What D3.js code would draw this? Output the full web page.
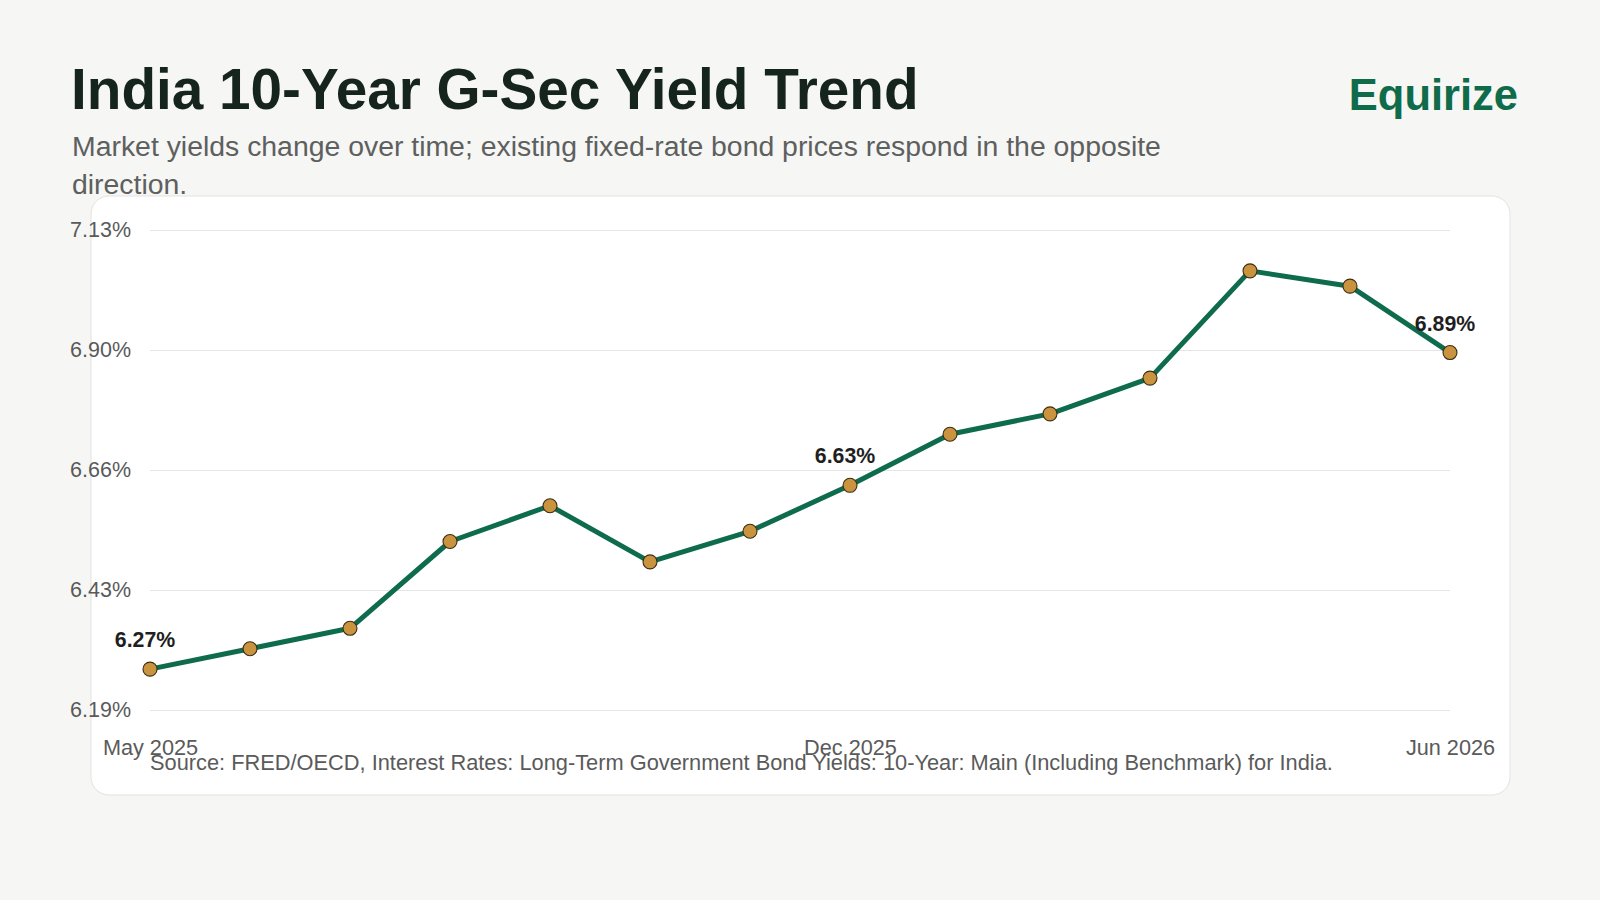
<!DOCTYPE html>
<html>
<head>
<meta charset="utf-8">
<script src="https://cdn.jsdelivr.net/npm/d3@7"></script>
<style>
    body { margin: 0; background: #f6f6f4; }
    svg { display: block; font-family: "Liberation Sans", Arial, sans-serif; }
</style>
</head>
<body>
<div id="main_svg"></div>
<script>
// chart data
var months = ["May 2025", "Jun 2025", "Jul 2025", "Aug 2025", "Sep 2025", "Oct 2025", "Nov 2025",
    "Dec 2025", "Jan 2026", "Feb 2026", "Mar 2026", "Apr 2026", "May 2026", "Jun 2026"];
var yields = [6.27, 6.31, 6.35, 6.52, 6.59, 6.48, 6.54, 6.63, 6.73, 6.77, 6.84, 7.05, 7.02, 6.89];
var xTickLabels = ["May 2025", "Dec 2025", "Jun 2026"];
var labelledMonths = ["May 2025", "Dec 2025", "Jun 2026"];

var title = "India 10-Year G-Sec Yield Trend";
var subtitleLines = ["Market yields change over time; existing fixed-rate bond prices respond in the opposite",
    "direction."];
var brand = "Equirize";
var source = "Source: FRED/OECD, Interest Rates: Long-Term Government Bond Yields: 10-Year: Main (Including Benchmark) for India.";

var data = months.map(function (m, i) { return {month: m, value: yields[i]}; });

// plot area
var margin = {top: 230, right: 150, bottom: 190, left: 150},
    W = 1600, H = 900,
    width = W - margin.left - margin.right,
    height = H - margin.top - margin.bottom;

var svg = d3.select("#main_svg").append("svg")
    .attr("width", W)
    .attr("height", H);

// header
svg.append("text")
    .attr("x", 71).attr("y", 109)
    .attr("font-size", 56.7).attr("font-weight", "bold")
    .attr("fill", "#15241d")
    .text(title);

svg.append("text")
    .attr("x", 1518).attr("y", 110)
    .attr("text-anchor", "end")
    .attr("font-size", 43.5).attr("font-weight", "bold")
    .attr("fill", "#0f6b4a")
    .text(brand);

svg.append("text")
    .attr("font-size", 28.4).attr("fill", "#5d605e")
    .selectAll("tspan")
    .data(subtitleLines)
    .enter().append("tspan")
    .attr("x", 72)
    .attr("y", function (d, i) { return 156 + i * 38; })
    .text(function (d) { return d; });

// card
svg.append("rect")
    .attr("x", 91).attr("y", 196)
    .attr("width", 1419).attr("height", 599)
    .attr("rx", 18)
    .attr("fill", "#ffffff")
    .attr("stroke", "#e2e2e0");

var g = svg.append("g")
    .attr("transform", "translate(" + margin.left + "," + margin.top + ")");

// scales
var x = d3.scalePoint()
    .domain(months)
    .range([0, width]);

var pad = 0.08;
var y0 = d3.min(yields) - pad, y1 = d3.max(yields) + pad;
var y = d3.scaleLinear()
    .domain([y0, y1])
    .range([height, 0]);

var yTicks = d3.range(5).map(function (i) { return y0 + i * (y1 - y0) / 4; });

// y axis + gridlines
var yAxis = g.append("g")
    .call(d3.axisLeft(y)
        .tickValues(yTicks)
        .tickSize(-width)
        .tickPadding(19)
        .tickFormat(function (d) { return (d + 1e-9).toFixed(2) + "%"; }));
yAxis.select(".domain").remove();
yAxis.selectAll(".tick line").attr("stroke", "#e6e6e6").attr("stroke-width", 1.2);
yAxis.selectAll(".tick text")
    .attr("font-size", 21.5)
    .attr("font-family", "Liberation Sans, Arial, sans-serif")
    .attr("fill", "#5a5a5a");

// x axis
var xAxis = g.append("g")
    .attr("transform", "translate(0," + height + ")")
    .call(d3.axisBottom(x)
        .tickValues(xTickLabels)
        .tickSize(0)
        .tickPadding(30));
xAxis.select(".domain").remove();
xAxis.selectAll(".tick text")
    .attr("font-size", 21.7)
    .attr("font-family", "Liberation Sans, Arial, sans-serif")
    .attr("fill", "#5a5a5a");

// line
var line = d3.line()
    .x(function (d) { return x(d.month); })
    .y(function (d) { return y(d.value); });

g.append("path")
    .datum(data)
    .attr("fill", "none")
    .attr("stroke", "#0f6b4d")
    .attr("stroke-width", 5)
    .attr("stroke-linejoin", "round")
    .attr("d", line);

// markers
g.selectAll(".dot")
    .data(data)
    .enter().append("circle")
    .attr("class", "dot")
    .attr("cx", function (d) { return x(d.month); })
    .attr("cy", function (d) { return y(d.value); })
    .attr("r", 7)
    .attr("fill", "#c9933f")
    .attr("stroke", "#3b2d12")
    .attr("stroke-width", 1.1);

// value labels
g.selectAll(".lbl")
    .data(data.filter(function (d) { return labelledMonths.indexOf(d.month) >= 0; }))
    .enter().append("text")
    .attr("class", "lbl")
    .attr("x", function (d) { return x(d.month) - 5; })
    .attr("y", function (d) { return y(d.value) - 22; })
    .attr("text-anchor", "middle")
    .attr("font-size", 21.3)
    .attr("font-weight", "bold")
    .attr("fill", "#1f1f1f")
    .text(function (d) { return d.value.toFixed(2) + "%"; });

// source note
svg.append("text")
    .attr("x", 150).attr("y", 770)
    .attr("font-size", 21.8)
    .attr("fill", "#5a5a5a")
    .text(source);
</script>
</body>
</html>
